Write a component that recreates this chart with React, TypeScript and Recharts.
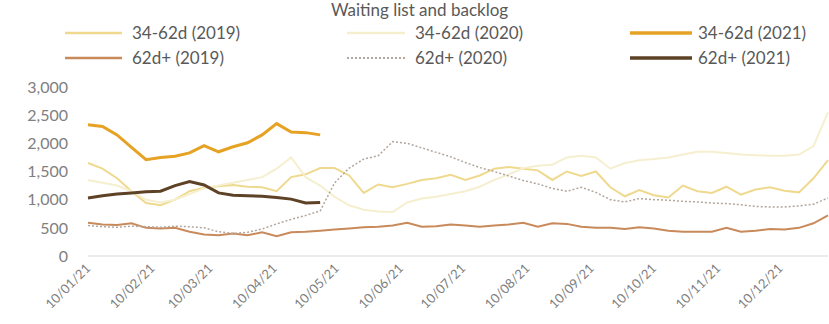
import { LineChart, Line, XAxis, YAxis } from "recharts";

// weekly points, first one on 10 Jan
const weekCount = 52;

const monthTicks = [0, 31, 59, 90, 120, 151, 181, 212, 243, 273, 304, 334];
const monthLabels = [
  "10/01/21", "10/02/21", "10/03/21", "10/04/21", "10/05/21", "10/06/21",
  "10/07/21", "10/08/21", "10/09/21", "10/10/21", "10/11/21", "10/12/21",
];
const yTicks = [0, 500, 1000, 1500, 2000, 2500, 3000];

const mid2019 = [
  1650, 1550, 1380, 1150, 940, 900, 1000, 1150, 1210, 1240, 1260, 1230, 1220,
  1150, 1400, 1450, 1560, 1560, 1430, 1120, 1270, 1220, 1280, 1350, 1380, 1440,
  1350, 1430, 1550, 1580, 1550, 1520, 1350, 1500, 1420, 1500, 1220, 1060, 1170,
  1080, 1040, 1250, 1150, 1120, 1230, 1090, 1180, 1220, 1160, 1130, 1380, 1700,
];
const mid2020 = [
  1350, 1300, 1250, 1150, 1000, 950, 1000, 1100, 1200, 1250, 1300, 1350, 1400,
  1550, 1750, 1400, 1250, 1050, 900, 820, 790, 780, 950, 1020, 1050, 1100, 1150,
  1230, 1350, 1450, 1560, 1600, 1620, 1750, 1780, 1750, 1550, 1650, 1700, 1720,
  1750, 1800, 1850, 1850, 1830, 1800, 1790, 1780, 1780, 1800, 1950, 2550,
];
const mid2021 = [
  2330, 2300, 2150, 1930, 1710, 1750, 1770, 1830, 1960, 1850, 1940, 2010, 2150,
  2350, 2200, 2190, 2150,
];
const long2019 = [
  590, 560, 550, 580, 500, 490, 500, 430, 380, 370, 400, 370, 420, 350, 420, 430,
  450, 470, 490, 510, 520, 540, 590, 520, 530, 560, 540, 520, 540, 560, 590, 520,
  580, 570, 520, 500, 500, 480, 510, 490, 450, 430, 430, 430, 500, 430, 450, 480,
  470, 500, 580, 720,
];
const long2020 = [
  540, 520, 510, 530, 520, 510, 530, 520, 500, 430, 400, 420, 480, 570, 650, 720,
  800, 1300, 1560, 1720, 1780, 2030, 2000, 1920, 1840, 1760, 1660, 1570, 1500,
  1420, 1340, 1280, 1200, 1150, 1220, 1130, 1000, 960, 1020, 1000, 990, 970, 960,
  940, 930, 910, 880, 870, 870, 890, 920, 1030,
];
const long2021 = [
  1030, 1070, 1100, 1120, 1140, 1150, 1250, 1320, 1260, 1120, 1080, 1070, 1060,
  1040, 1010, 940, 950,
];

const rows = Array.from({ length: weekCount }, (_, i) => ({
  day: i * 7,
  mid2019: mid2019[i],
  mid2020: mid2020[i],
  mid2021: mid2021[i],
  long2019: long2019[i],
  long2020: long2020[i],
  long2021: long2021[i],
}));

const font = "Lato, 'Open Sans', sans-serif";

const series = [
  { key: "mid2019", name: "34-62d (2019)", color: "#efd98e", width: 2, dash: undefined },
  { key: "mid2020", name: "34-62d (2020)", color: "#f6efcf", width: 2, dash: undefined },
  { key: "mid2021", name: "34-62d (2021)", color: "#e6a224", width: 3, dash: undefined },
  { key: "long2019", name: "62d+ (2019)", color: "#c98a5b", width: 2, dash: undefined },
  { key: "long2020", name: "62d+ (2020)", color: "#b3a69c", width: 1.5, dash: "2 2" },
  { key: "long2021", name: "62d+ (2021)", color: "#5e4226", width: 3, dash: undefined },
];

// legend slots: [line start, line end, text x, row y]
const legendPos = [
  [65, 122, 132, 33], [347, 405, 415, 33], [630, 692, 698, 33],
  [65, 122, 132, 58], [347, 405, 415, 58], [630, 692, 698, 58],
];

function DateTick(props: any) {
  const { x, y, payload } = props;
  return (
    <text
      x={x}
      y={y}
      dy="0.35em"
      transform={`rotate(-45, ${x}, ${y})`}
      textAnchor="end"
      fill="#808080"
      fontSize={13}
      fontFamily={font}
    >
      {monthLabels[monthTicks.indexOf(payload.value)]}
    </text>
  );
}

export default function App() {
  return (
    <div style={{ position: "absolute", left: 0, top: 0, width: 829, height: 324, background: "#fff" }}>
      <div
        style={{
          position: "absolute", left: 5, width: 829, top: -2, textAlign: "center",
          fontFamily: font, fontSize: 17, color: "#595959", lineHeight: "24px",
        }}
      >
        Waiting list and backlog
      </div>
      <svg width={829} height={80} style={{ position: "absolute", left: 0, top: 0 }}>
        {series.map((s, i) => {
          const [x1, x2, tx, y] = legendPos[i];
          return (
            <g key={s.key}>
              <line x1={x1} x2={x2} y1={y} y2={y} stroke={s.color} strokeWidth={s.width + 0.5} strokeDasharray={s.dash} />
              <text x={tx} y={y} dy="0.35em" fontSize={17} fontFamily={font} fill="#595959">
                {s.name}
              </text>
            </g>
          );
        })}
      </svg>
      <LineChart
        width={829}
        height={324}
        data={rows}
        margin={{ top: 87, right: 1, left: 0, bottom: 8 }}
      >
        <XAxis
          dataKey="day"
          type="number"
          domain={[0, 357]}
          ticks={monthTicks}
          interval={0}
          tick={<DateTick />}
          tickLine={false}
          tickSize={0}
          tickMargin={10}
          height={60}
          axisLine={{ stroke: "#d9d9d9" }}
        />
        <YAxis
          width={88}
          domain={[0, 3000]}
          ticks={yTicks}
          tickLine={false}
          axisLine={false}
          tickSize={0}
          tickMargin={20}
          tickFormatter={(v: number) => v.toLocaleString("en-US")}
          tick={{ fill: "#808080", fontSize: 16, fontFamily: font }}
        />
        {series.map((s) => (
          <Line
            key={s.key}
            dataKey={s.key}
            name={s.name}
            stroke={s.color}
            strokeWidth={s.width}
            strokeDasharray={s.dash}
            dot={false}
            type="linear"
            isAnimationActive={false}
          />
        ))}
      </LineChart>
    </div>
  );
}
